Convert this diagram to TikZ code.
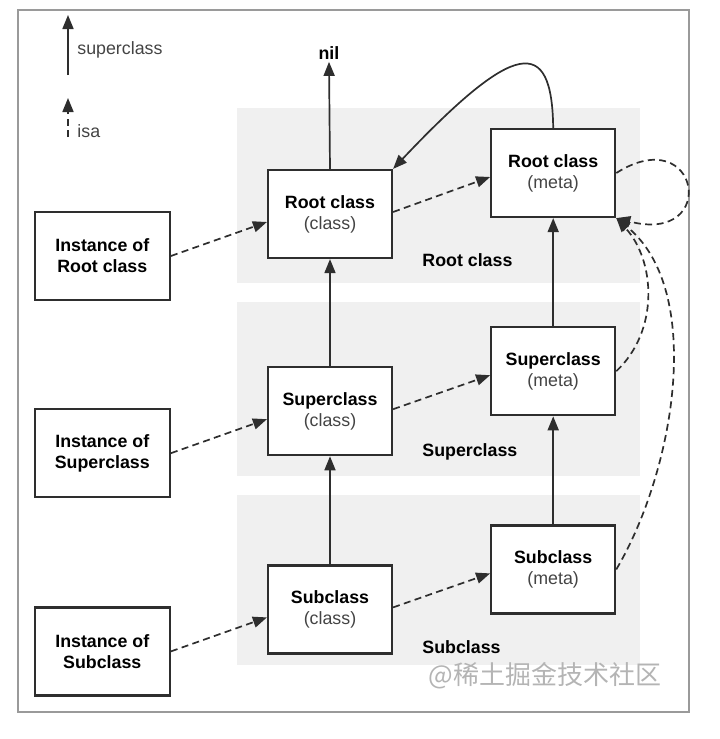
\documentclass[tikz,border=0pt]{standalone}
\usepackage{fontspec}
\setmainfont{Liberation Sans}
\newfontfamily\cjkfont{Noto Sans CJK SC}
\usetikzlibrary{arrows.meta,positioning}
\definecolor{objline}{HTML}{2E2E2E}
\definecolor{objsub}{HTML}{444444}
\definecolor{bandgray}{HTML}{F0F0F0}
\definecolor{framegray}{HTML}{9A9A9A}
\definecolor{markgray}{HTML}{B4B4B4}

\begin{document}
\begin{tikzpicture}[x=0.5pt,y=-0.5pt,
  cls/.style={draw=objline,fill=white,line width=1.1pt,minimum width=62pt,minimum height=44pt,align=center,font=\fontsize{8.9}{10.5}\selectfont,inner sep=2pt},
  inst/.style={cls,minimum width=67.5pt},
  band/.style={fill=bandgray},
  lbl/.style={font=\fontsize{8.9}{10.5}\selectfont\bfseries,anchor=west,inner sep=0pt},
  superarrow/.style={-{Triangle[length=7pt,width=5.5pt]},line width=0.85pt,objline},
  isaarrow/.style={superarrow,dash pattern=on 3.5pt off 2.2pt}]
  \useasboundingbox (0,0) rectangle (719,739);
  % layer bands and frame
  \fill[band] (237,108) rectangle (640,283);
  \fill[band] (237,302) rectangle (640,476);
  \fill[band] (237,495) rectangle (640,665);
  \draw[framegray,line width=1pt] (18,10) rectangle (689,712);
  % legend
  \coordinate (legsupa) at (68,75); \coordinate (legsupb) at (68,15);
  \coordinate (legisaa) at (68,137); \coordinate (legisab) at (68,98);
  \draw[superarrow] (legsupa) -- (legsupb);
  \draw[isaarrow] (legisaa) -- (legisab);
  \node[lbl,font=\fontsize{8.9}{10.5}\selectfont,text=objsub] (legsup) at (77,50) {superclass};
  \node[lbl,font=\fontsize{8.9}{10.5}\selectfont,text=objsub] (legisa) at (77,131) {isa};
  % class column
  \node[cls] (rcls) at (330,214) {\textbf{Root class}\\\textcolor{objsub}{(class)}};
  \node[cls,below=53.5pt of rcls] (scls) {\textbf{Superclass}\\\textcolor{objsub}{(class)}};
  \node[cls,below=54pt of scls] (subcls) {\textbf{Subclass}\\\textcolor{objsub}{(class)}};
  % metaclass column
  \node[cls,right=48.5pt of rcls,yshift=20.5pt] (rmeta) {\textbf{Root class}\\\textcolor{objsub}{(meta)}};
  \node[cls,below=54pt of rmeta] (smeta) {\textbf{Superclass}\\\textcolor{objsub}{(meta)}};
  \node[cls,below=54pt of smeta] (submeta) {\textbf{Subclass}\\\textcolor{objsub}{(meta)}};
  % instances
  \node[inst,left=48pt of rcls,yshift=-21pt] (irt) {\textbf{Instance of}\\\textbf{Root class}};
  \node[inst,left=48pt of scls,yshift=-21pt] (isup) {\textbf{Instance of}\\\textbf{Superclass}};
  \node[inst,left=48pt of subcls,yshift=-21pt] (isub) {\textbf{Instance of}\\\textbf{Subclass}};
  % labels
  \node[font=\fontsize{8.9}{10.5}\selectfont\bfseries,inner sep=1pt] (nil) at (329,53) {nil};
  \node[lbl] (lrt) at (422,260) {Root class};
  \node[lbl] (lsup) at (422,452) {Superclass};
  \node[lbl] (lsub) at (422,647) {Subclass};
  \node[font=\cjkfont\fontsize{13}{13}\selectfont,text=markgray,anchor=west,inner sep=0pt] (mark) at (428,676) {@稀土掘金技术社区};
  % superclass links
  \draw[superarrow] (rcls.north) -- (nil.south);
  \draw[superarrow] (scls.north) -- (rcls.south);
  \draw[superarrow] (subcls.north) -- (scls.south);
  \draw[superarrow] (smeta.north) -- (rmeta.south);
  \draw[superarrow] (submeta.north) -- (smeta.south);
  \draw[superarrow] (rmeta.north) .. controls (552,35) and (515,40) .. (rcls.north east);
  % isa links
  \draw[isaarrow] (irt.east) -- ([yshift=-4pt]rcls.west);
  \draw[isaarrow] (isup.east) -- ([yshift=-4pt]scls.west);
  \draw[isaarrow] (isub.east) -- ([yshift=-4pt]subcls.west);
  \draw[isaarrow] ([yshift=1pt]rcls.east) -- ([yshift=-2pt]rmeta.west);
  \draw[isaarrow] ([yshift=1pt]scls.east) -- ([yshift=-2pt]smeta.west);
  \draw[isaarrow] ([yshift=1pt]subcls.east) -- ([yshift=-2pt]submeta.west);
  \draw[isaarrow] (rmeta.east) .. controls (700,120) and (720,245) .. (rmeta.south east);
  \draw[isaarrow] (smeta.east) .. controls (660,330) and (655,260) .. (rmeta.south east);
  \draw[isaarrow] (submeta.east) .. controls (675,470) and (705,290) .. (rmeta.south east);
\end{tikzpicture}
\end{document}
